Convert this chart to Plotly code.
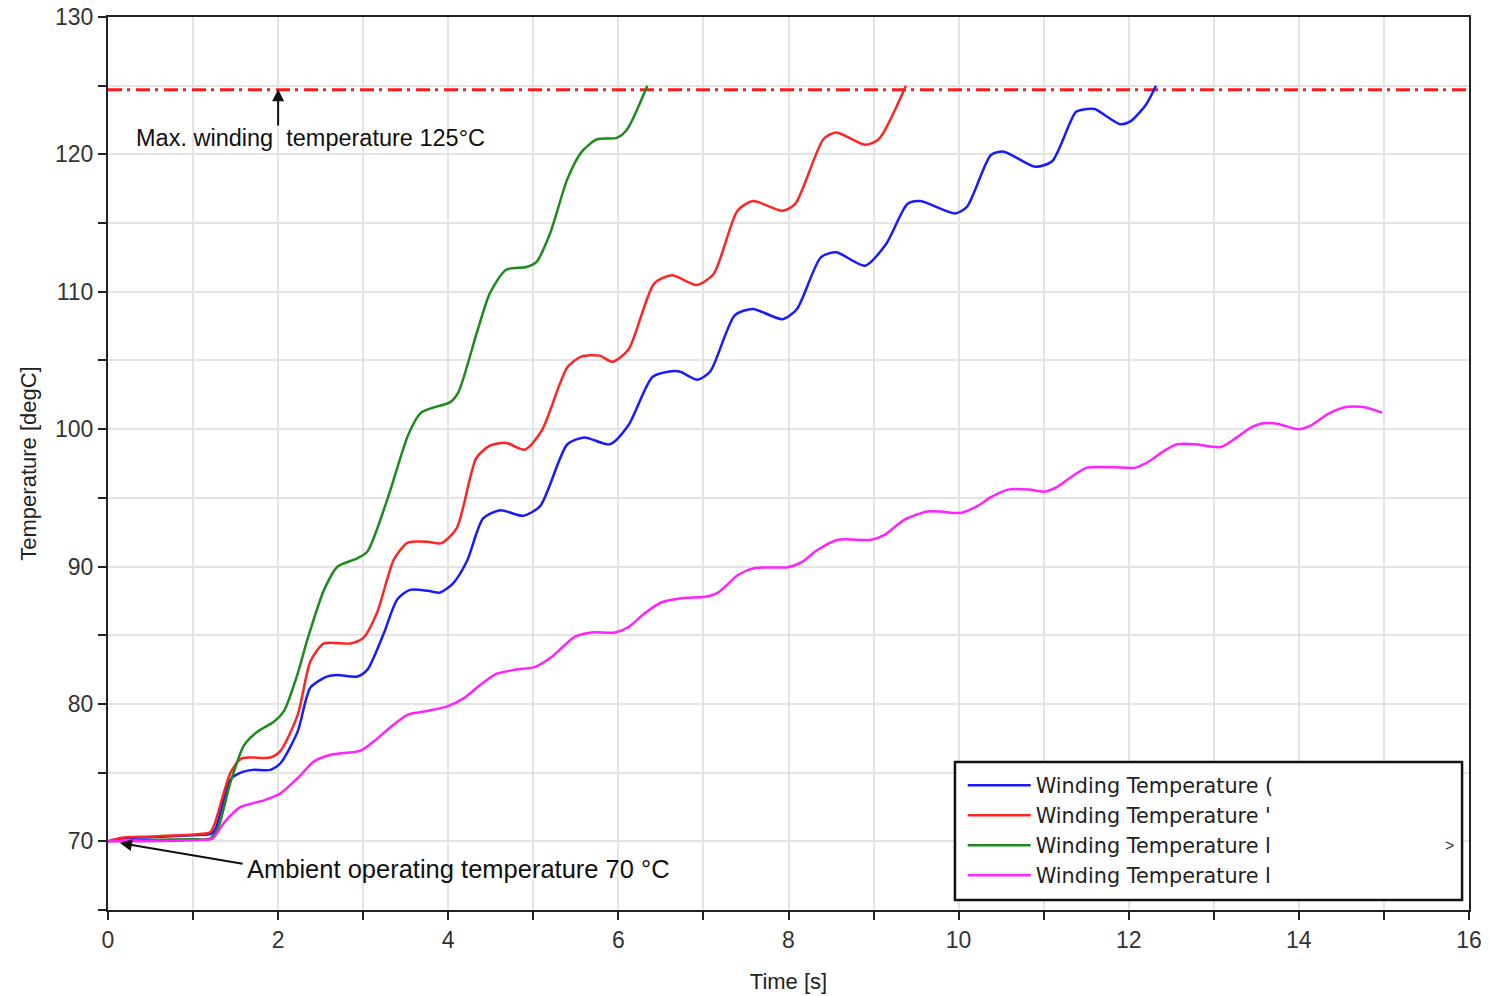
import plotly.graph_objects as go

# ---- data ----
t_blue = [0, 0.15, 0.5, 1.0, 1.22, 1.27, 1.44, 1.56, 1.7, 1.91, 2.03, 2.23, 2.38, 2.58, 2.7, 2.93, 3.05,
          3.24, 3.4, 3.55, 3.79, 3.9, 4.06, 4.22, 4.41, 4.61, 4.88, 5.08, 5.4, 5.6, 5.9, 6.12, 6.4, 6.6,
          6.72, 6.93, 7.08, 7.37, 7.58, 7.93, 8.1, 8.38, 8.56, 8.9, 9.15, 9.4, 9.55, 9.96, 10.1, 10.38,
          10.53, 10.9, 11.1, 11.38, 11.5, 11.6, 11.9, 12.02, 12.2, 12.32]
T_blue = [70, 70.2, 70.3, 70.45, 70.55, 71.0, 74.5, 75.0, 75.2, 75.2, 75.7, 78.0, 81.2, 82.0, 82.1, 82.0, 82.5,
          85.1, 87.6, 88.3, 88.2, 88.1, 88.8, 90.4, 93.5, 94.1, 93.7, 94.4, 98.9, 99.4, 98.9, 100.3, 103.8, 104.2,
          104.2, 103.6, 104.2, 108.3, 108.75, 108.0, 108.75, 112.5, 112.87, 111.9, 113.5, 116.4, 116.6, 115.7, 116.2, 119.95,
          120.2, 119.1, 119.5, 123.1, 123.3, 123.3, 122.2, 122.4, 123.6, 125.0]

t_red = [0, 0.15, 0.5, 1.0, 1.2, 1.25, 1.44, 1.56, 1.68, 1.91, 2.03, 2.23, 2.38, 2.54, 2.85, 3.0, 3.16, 3.36,
         3.51, 3.57, 3.76, 3.92, 4.1, 4.33, 4.49, 4.68, 4.9, 5.1, 5.4, 5.57, 5.78, 5.93, 6.12, 6.42, 6.63,
         6.92, 7.12, 7.4, 7.58, 7.93, 8.08, 8.41, 8.56, 8.9, 9.06, 9.38]
T_red = [70, 70.25, 70.35, 70.5, 70.65, 71.2, 75.0, 76.0, 76.1, 76.1, 76.6, 79.2, 83.1, 84.4, 84.4, 84.8, 86.6, 90.5,
         91.7, 91.8, 91.8, 91.7, 92.8, 97.9, 98.8, 99.0, 98.5, 99.9, 104.5, 105.3, 105.35, 104.9, 105.8, 110.6, 111.2,
         110.5, 111.3, 115.9, 116.6, 115.9, 116.4, 121.1, 121.6, 120.7, 121.1, 125.0]

t_green = [0, 0.5, 1.0, 1.2, 1.29, 1.44, 1.6, 1.76, 1.95, 2.07, 2.23, 2.34, 2.54, 2.7, 2.93, 3.05, 3.29, 3.53,
           3.68, 3.84, 4.02, 4.12, 4.33, 4.49, 4.68, 4.92, 5.04, 5.2, 5.4, 5.57, 5.75, 5.98, 6.1, 6.34]
T_green = [70, 70.1, 70.15, 70.2, 70.9, 74.3, 77.0, 78.0, 78.7, 79.5, 82.2, 84.6, 88.3, 90.0, 90.6, 91.1, 95.0, 99.6,
           101.2, 101.6, 101.95, 102.7, 106.9, 109.9, 111.6, 111.8, 112.2, 114.3, 118.2, 120.2, 121.1, 121.2, 121.8, 125.0]

t_mag = [0, 1.09, 1.23, 1.37, 1.56, 1.84, 2.03, 2.23, 2.42, 2.62, 2.97, 3.13, 3.32, 3.52, 3.67, 3.98, 4.18, 4.38,
         4.57, 4.8, 5.02, 5.21, 5.49, 5.69, 5.96, 6.12, 6.31, 6.51, 6.74, 7.02, 7.17, 7.41, 7.6, 7.99, 8.15, 8.34,
         8.58, 8.97, 9.13, 9.36, 9.63, 9.79, 10.02, 10.22, 10.38, 10.58, 10.83, 11.0, 11.16, 11.32, 11.51, 11.92,
         12.08, 12.25, 12.41, 12.57, 12.78, 13.08, 13.27, 13.43, 13.55, 13.74, 13.99, 14.15, 14.34, 14.54, 14.77,
         14.98]
T_mag = [70, 70.1, 70.2, 71.4, 72.5, 73.0, 73.5, 74.6, 75.8, 76.3, 76.6, 77.3, 78.3, 79.2, 79.4, 79.8, 80.4, 81.4,
         82.2, 82.5, 82.7, 83.4, 84.9, 85.2, 85.2, 85.6, 86.6, 87.4, 87.7, 87.8, 88.1, 89.4, 89.9, 89.95, 90.3, 91.2,
         91.95, 91.95, 92.3, 93.4, 94.0, 94.0, 93.9, 94.4, 95.05, 95.6, 95.6, 95.45, 95.8, 96.5, 97.2, 97.2,
         97.2, 97.7, 98.4, 98.9, 98.9, 98.7, 99.4, 100.1, 100.4, 100.4, 100.0, 100.3, 101.1, 101.6, 101.6,
         101.2]

limit_t = [0, 16]
limit_T = [124.7, 124.7]

names = ["Winding Temperature (", "Winding Temperature '", "Winding Temperature l", "Winding Temperature l"]
colors = ["#1a1aff", "#ff2424", "#1e8a1e", "#ff22ff"]

x_ticks = [0, 2, 4, 6, 8, 10, 12, 14, 16]
y_ticks = [70, 80, 90, 100, 110, 120, 130]

FONT = "Liberation Sans, Arial, sans-serif"
LEGEND_FONT = "DejaVu Sans, Verdana, sans-serif"

fig = go.Figure()

fig.add_trace(go.Scatter(x=limit_t, y=limit_T, mode="lines", showlegend=False,
                         line=dict(color="#ff1a1a", width=3, dash="14px,5px,3px,6px"),
                         hoverinfo="skip"))

series = [(t_blue, T_blue), (t_red, T_red), (t_green, T_green), (t_mag, T_mag)]
for (tx, ty), nm, col in zip(series, names, colors):
    fig.add_trace(go.Scatter(x=tx, y=ty, mode="lines", name=nm,
                             line=dict(color=col, width=2.5, shape="spline", smoothing=0.7)))

axis_common = dict(
    showline=True, linecolor="#222222", linewidth=2, mirror=True,
    ticks="outside", ticklen=8, tickwidth=1.5, tickcolor="#222222",
    showgrid=True, gridcolor="#e4e4e4", gridwidth=1.5,
    zeroline=False, automargin=False,
    tickfont=dict(family=FONT, size=23, color="#333333"),
)

fig.update_xaxes(range=[0, 16], tickvals=x_ticks,
                 minor=dict(dtick=1, tick0=0, ticks="outside", ticklen=8, tickcolor="#222222",
                            showgrid=True, gridcolor="#e4e4e4", gridwidth=1.5),
                 title=dict(text="Time [s]", font=dict(family=FONT, size=22, color="#222222"), standoff=22),
                 **axis_common)
fig.update_yaxes(range=[65, 130], tickvals=y_ticks,
                 minor=dict(dtick=5, tick0=0, ticks="outside", ticklen=8, tickcolor="#222222",
                            showgrid=True, gridcolor="#e4e4e4", gridwidth=1.5),
                 title=dict(text="Temperature [degC]", font=dict(family=FONT, size=22, color="#222222"), standoff=12),
                 **axis_common)

# legend frame
fig.add_shape(type="rect", xref="paper", yref="paper", x0=0.6223, x1=0.9949, y0=0.0112, y1=0.1657,
              line=dict(color="#111111", width=2.5), fillcolor="white", layer="above")

fig.update_layout(
    width=1489, height=996,
    margin=dict(l=108, r=20, t=17, b=86),
    paper_bgcolor="white", plot_bgcolor="white",
    font=dict(family=FONT, color="#222222"),
    showlegend=True,
    legend=dict(x=0.628, y=0.1622, xanchor="left", yanchor="top",
                bgcolor="rgba(0,0,0,0)", borderwidth=0,
                font=dict(family=LEGEND_FONT, size=20.8, color="#222222"),
                itemwidth=63, tracegroupgap=0),
    annotations=[
        dict(x=0.3, y=121.2, xref="x", yref="y", text="Max. winding\u00a0 temperature 125°C",
             showarrow=False, xanchor="left", yanchor="middle",
             font=dict(family=FONT, size=23.5, color="#111111")),
        dict(x=2.0, y=124.75, xref="x", yref="y", ax=2.0, ay=122.0, axref="x", ayref="y",
             text="", showarrow=True, arrowhead=2, arrowsize=1.2, arrowwidth=2, arrowcolor="#111111"),
        dict(x=1.61, y=68.0, xref="x", yref="y", text="Ambient operating temperature 70 °C",
             showarrow=False, xanchor="left", yanchor="middle",
             font=dict(family=FONT, size=25.5, color="#111111")),
        dict(x=0.14, y=69.87, xref="x", yref="y", ax=1.6, ay=68.35, axref="x", ayref="y",
             text="", showarrow=True, arrowhead=2, arrowsize=1.2, arrowwidth=2, arrowcolor="#111111"),
        dict(x=0.986, y=0.0717, xref="paper", yref="paper", text=">", showarrow=False,
             xanchor="center", yanchor="middle",
             font=dict(family=FONT, size=16, color="#333333")),
    ],
)

fig.write_html("out.html")
